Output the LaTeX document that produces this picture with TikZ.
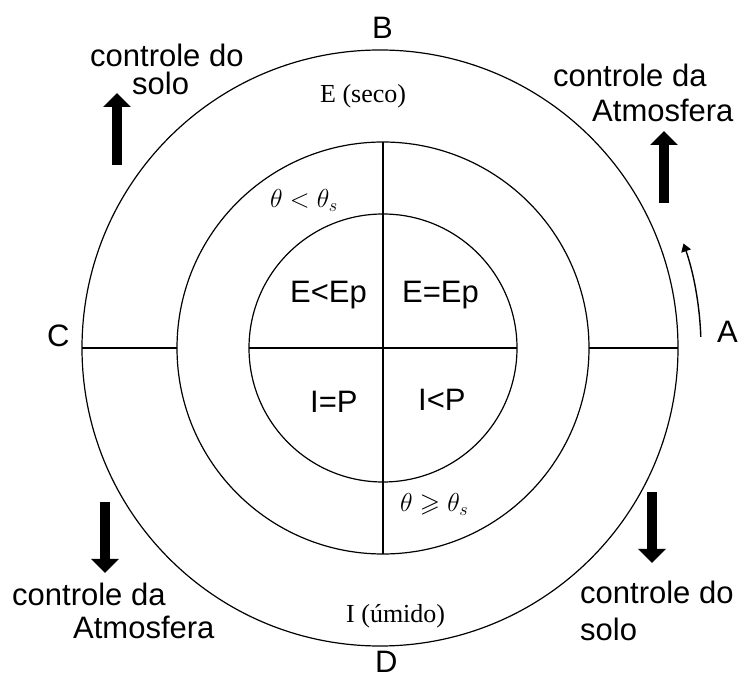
\RequirePackage{fix-cm}
\documentclass[tikz,border=0pt]{standalone}
\usepackage{amssymb}
\usepackage{fontspec}
\setmainfont{Liberation Sans}
\newfontfamily\serifx{Liberation Serif}
\usetikzlibrary{arrows.meta}
\begin{document}
\begin{tikzpicture}[x=1pt,y=1pt,
  lbl/.style={anchor=base west,inner sep=0pt,font=\fontsize{31}{31}\selectfont},
  slbl/.style={anchor=base west,inner sep=0pt,font=\serifx\fontsize{26}{26}\selectfont},
  mlbl/.style={anchor=base west,inner sep=0pt,font=\fontsize{26}{26}\selectfont},
  ring/.style={line width=1.2pt},
  bigarrow/.style={line width=10pt,-{Triangle[width=27pt,length=14pt]}},
  smallarrow/.style={line width=1.4pt,-{Triangle[width=10pt,length=8pt]}}]
\useasboundingbox (0,0) rectangle (742,678);
% centres
\coordinate (O) at (380,330);
\coordinate (M) at (383,330);
% circles
\draw[ring] (O) circle[radius=298];
\draw[ring] (M) circle[radius=206];
\draw[ring] (M) circle[radius=134];
% points on circles
\coordinate (outL) at (82,330);
\coordinate (outR) at (678,330);
\coordinate (midL) at (177,330);
\coordinate (midR) at (589,330);
\coordinate (midT) at (383,536);
\coordinate (midB) at (383,124);
\coordinate (inL) at (249,330);
\coordinate (inR) at (517,330);
\draw[ring] (outL) -- (midL);
\draw[ring] (midR) -- (outR);
\draw[ring] (inL) -- (inR);
\draw[ring] (midT) -- (midB);
% big arrows
\coordinate (tl1) at (117,513); \coordinate (tl2) at (117,585);
\coordinate (tr1) at (664,475); \coordinate (tr2) at (664,547);
\coordinate (bl1) at (105,176); \coordinate (bl2) at (105,105);
\coordinate (br1) at (652,186); \coordinate (br2) at (652,115);
\draw[bigarrow] (tl1) -- (tl2);
\draw[bigarrow] (tr1) -- (tr2);
\draw[bigarrow] (bl1) -- (bl2);
\draw[bigarrow] (br1) -- (br2);
% small curved arrow near A
\coordinate (ca) at (700.8,341.2);
\draw[smallarrow] (ca) arc[start angle=2,end angle=19,radius=321];
% letters
\node[lbl] (B) at (372,639) {B};
\node[lbl] (C) at (47,331) {C};
\node[lbl] (D) at (375,6) {D};
\node[lbl] (A) at (717,335) {A};
% control labels
\node[lbl] (tlA) at (90,611) {controle do};
\node[lbl] (tlB) at (132,583) {solo};
\node[lbl] (trA) at (553,591) {controle da};
\node[lbl] (trB) at (592,556) {Atmosfera};
\node[lbl] (blA) at (12,73) {controle da};
\node[lbl] (blB) at (73,40) {Atmosfera};
\node[lbl] (brA) at (580,75) {controle do};
\node[lbl] (brB) at (580,38) {solo};
% quadrants
\node[lbl] (q1) at (290,375) {E<Ep};
\node[lbl] (q2) at (402,375) {E=Ep};
\node[lbl] (q3) at (310,265) {I=P};
\node[lbl] (q4) at (418,267) {I<P};
% serif labels
\node[slbl] (seco) at (320,575) {E (seco)};
\node[slbl] (umido) at (346,56) {I (úmido)};
% theta labels
\node[mlbl] (th1) at (270,470) {$\theta < \theta_s$};
\node[mlbl] (th2) at (400,166) {$\theta \geqslant \theta_s$};
\end{tikzpicture}
\end{document}
